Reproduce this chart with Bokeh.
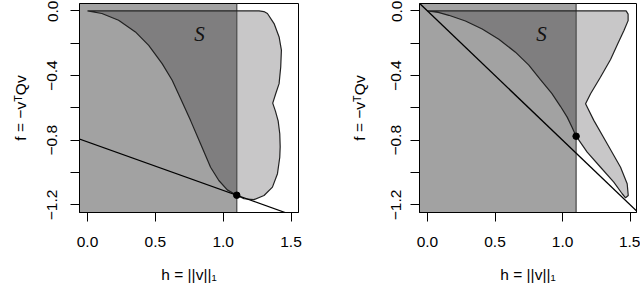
from bokeh.plotting import figure
from bokeh.layouts import row
from bokeh.models import FixedTicker, Slope
from bokeh.core.properties import value
from bokeh.embed import file_html
from bokeh.resources import INLINE

# ---------------- data ----------------
x_ticks = [0.0, 0.5, 1.0, 1.5]
x_tick_labels = ["0.0", "0.5", "1.0", "1.5"]
y_ticks = [0.0, -0.2, -0.4, -0.6, -0.8, -1.0, -1.2]
y_tick_labels = ["0.0", "", "\u22120.4", "", "\u22120.8", "", "\u22121.2"]

x_label = "h = ||v||\u2081"
y_label = "f = \u2212v\u1d40Qv"

h_cut = 1.1  # vertical cut h = 1.1

# left panel: set S (boundary, clockwise from origin)
left_S_h = [0.0, 1.264, 1.30, 1.326, 1.375, 1.412, 1.429, 1.424, 1.412, 1.387, 1.365,
            1.385, 1.405, 1.417, 1.42, 1.417, 1.40, 1.363, 1.301, 1.227, 1.153, 1.1,
            1.030, 0.968, 0.907, 0.833, 0.759, 0.685, 0.624, 0.550, 0.451, 0.353,
            0.229, 0.106, 0.0]
left_S_f = [0.0, 0.0, -0.004, -0.016, -0.078, -0.161, -0.243, -0.347, -0.45, -0.512, -0.57,
            -0.62, -0.68, -0.76, -0.84, -0.905, -1.007, -1.09, -1.142, -1.167, -1.162, -1.14,
            -1.107, -1.049, -0.967, -0.822, -0.677, -0.54, -0.429, -0.326, -0.213, -0.130,
            -0.058, -0.016, 0.0]
left_line_intercept = -0.81
left_line_slope = -0.30
left_pt_h = [1.1]
left_pt_f = [-1.14]

# right panel: set S
right_S_h = [0.0, 1.47, 1.485, 1.485, 1.455, 1.41, 1.355, 1.28, 1.207, 1.17,
             1.231, 1.33, 1.429, 1.478, 1.486, 1.466, 1.441, 1.379, 1.281, 1.182, 1.1,
             1.07, 1.034, 0.984, 0.92, 0.836, 0.75, 0.651, 0.528, 0.405, 0.281, 0.158,
             0.08, 0.0]
right_S_f = [0.0, 0.0, -0.02, -0.06, -0.12, -0.2, -0.3, -0.41, -0.512, -0.574,
             -0.677, -0.822, -0.967, -1.069, -1.142, -1.156, -1.131, -1.059, -0.967, -0.874, -0.775,
             -0.72, -0.657, -0.59, -0.51, -0.425, -0.335, -0.255, -0.175, -0.112, -0.062, -0.027,
             -0.009, 0.0]
right_line_intercept = 0.0
right_line_slope = -0.8
right_pt_h = [1.1]
right_pt_f = [-0.775]

S_label_h = [0.826, 0.844]
S_label_f = [-0.14, -0.14]

FONT = "Liberation Sans"
LIGHT = "#C8C7C8"


def make_panel(S_h, S_f, intercept, slope, pt_h, pt_f, lab_h, lab_f,
               xr, yr, width, mb_left, mb_right, tick_standoff, lab_standoff):
    p = figure(width=width, height=287, x_range=xr, y_range=yr,
               output_backend="svg", toolbar_location=None,
               min_border_left=mb_left, min_border_right=mb_right,
               min_border_top=3, min_border_bottom=75)
    p.xgrid.visible = False
    p.ygrid.visible = False
    p.outline_line_color = "black"
    p.outline_line_width = 1
    p.background_fill_color = "white"
    p.border_fill_color = "white"

    # S region (light fill)
    p.patch(S_h, S_f, fill_color=LIGHT, line_color=None)
    # half-plane h <= h_cut (translucent dark)
    p.quad(left=[xr[0]], right=[h_cut], bottom=[yr[0]], top=[yr[1]],
           fill_color="black", fill_alpha=0.365, line_color=None)
    # vertical cut line
    p.segment(x0=[h_cut], y0=[yr[0]], x1=[h_cut], y1=[yr[1]],
              line_color="#505050", line_width=1.3)
    # S outline
    p.patch(S_h, S_f, fill_color=None, line_color="#222222", line_width=1.2)
    # supporting line
    p.add_layout(Slope(gradient=slope, y_intercept=intercept,
                       line_color="black", line_width=1.3))
    # touching point
    p.scatter(pt_h, pt_f, size=6.5, marker="circle", fill_color="black", line_color="black")
    # label S
    p.text(x=[lab_h], y=[lab_f], text=["S"], text_font=value("Liberation Serif"),
           text_font_style="italic", text_font_size="21px", text_color="#111111",
           text_align="center", text_baseline="middle")

    for ax in (p.xaxis[0], p.yaxis[0]):
        ax.minor_tick_line_color = None
        ax.major_tick_in = 0
        ax.major_tick_out = 9
        ax.major_tick_line_color = "black"
        ax.axis_line_color = "black"
        ax.major_label_text_font = FONT
        ax.major_label_text_font_size = "15.5px"
        ax.major_label_text_color = "black"
        ax.axis_label_text_font = FONT
        ax.axis_label_text_font_size = "15.5px"
        ax.axis_label_text_font_style = "normal"
        ax.axis_label_text_color = "black"

    p.xaxis.ticker = FixedTicker(ticks=x_ticks)
    p.xaxis.major_label_overrides = dict(zip(x_ticks, x_tick_labels))
    p.xaxis.major_label_standoff = 15
    p.xaxis.axis_label = x_label
    p.xaxis.axis_label_standoff = 16

    p.yaxis.ticker = FixedTicker(ticks=y_ticks)
    p.yaxis.major_label_overrides = dict(zip(y_ticks, y_tick_labels))
    p.yaxis.major_label_orientation = "vertical"
    p.yaxis.major_label_standoff = tick_standoff
    p.yaxis.axis_label = y_label
    p.yaxis.axis_label_standoff = lab_standoff
    return p


p1 = make_panel(left_S_h, left_S_f, left_line_intercept, left_line_slope,
                left_pt_h, left_pt_f, S_label_h[0], S_label_f[0],
                (-0.059, 1.555), (-1.247, 0.046), 320, 79, 22, 13, 16)
p2 = make_panel(right_S_h, right_S_f, right_line_intercept, right_line_slope,
                right_pt_h, right_pt_f, S_label_h[1], S_label_f[1],
                (-0.059, 1.547), (-1.247, 0.046), 320, 99, 4, 9, 21)

layout = row(p1, p2)
open("out.html", "w").write(file_html(layout, INLINE))
